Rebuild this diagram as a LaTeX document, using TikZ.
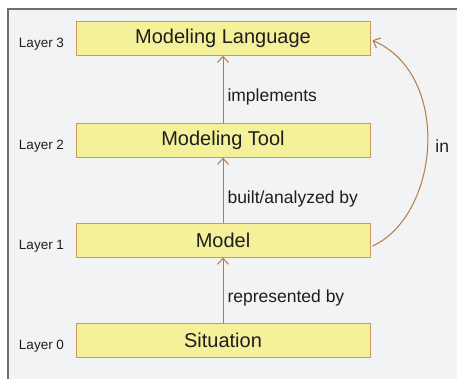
\documentclass[tikz,border=0pt]{standalone}
\usepackage{fontspec}
\setmainfont{Liberation Sans}
\usetikzlibrary{arrows.meta,positioning,calc}
\definecolor{boxfill}{HTML}{F5F19B}
\definecolor{boxline}{HTML}{C99A5E}
\definecolor{link}{HTML}{B27B47}
\definecolor{panel}{HTML}{F2F3F5}
\definecolor{frame}{HTML}{6E6E6E}
\definecolor{ink}{HTML}{1E1E1E}

\begin{document}
\begin{tikzpicture}[x=1pt, y=-1pt,
  layerbox/.style={draw=boxline, fill=boxfill, line width=0.9pt, minimum width=294pt, minimum height=34pt, inner sep=0pt, text=ink, font=\fontsize{20}{24}\selectfont},
  tag/.style={font=\fontsize{13.5}{16}\selectfont, text=ink, anchor=east},
  lbl/.style={font=\fontsize{17.5}{20}\selectfont, text=ink, anchor=west},
  arr/.style={-{Straight Barb[length=6pt,width=11pt]}, link, line width=1pt}]
  \useasboundingbox (0,0) rectangle (457,379);
  \fill[panel] (8,9) rectangle (457,379);
  \draw[frame, line width=1.2pt] (8,379) -- (8,9) -- (457,9);
  \node[layerbox] (sit) at (223,340) {Situation};
  \node[layerbox, above=65pt of sit] (model) {Model};
  \node[layerbox, above=65pt of model] (tool) {Modeling Tool};
  \node[layerbox, above=67pt of tool] (lang) {Modeling Language};
  \foreach \n/\i in {sit/0,model/1,tool/2,lang/3}{ \node[tag] (tag\i) at ($(\n.west)+(-8,6)$) {Layer \i}; }
  \draw[arr] (sit.north) -- (model.south);
  \draw[arr] (model.north) -- (tool.south);
  \draw[arr] (tool.north) -- (lang.south);
  \node[lbl] (repr) at ($(sit.north)!0.5!(model.south)+(1,8)$) {represented by};
  \node[lbl] (built) at ($(model.north)!0.5!(tool.south)+(1,9)$) {built/analyzed by};
  \node[lbl] (impl) at ($(tool.north)!0.5!(lang.south)+(1,8)$) {implements};
  \draw[arr] ($(model.east)+(2,6)$) .. controls (440,215) and (452,75) .. ($(lang.east)+(2,2)$)
    node[lbl, pos=0.5, xshift=4pt, yshift=-2pt] (inlbl) {in};
\end{tikzpicture}
\end{document}
